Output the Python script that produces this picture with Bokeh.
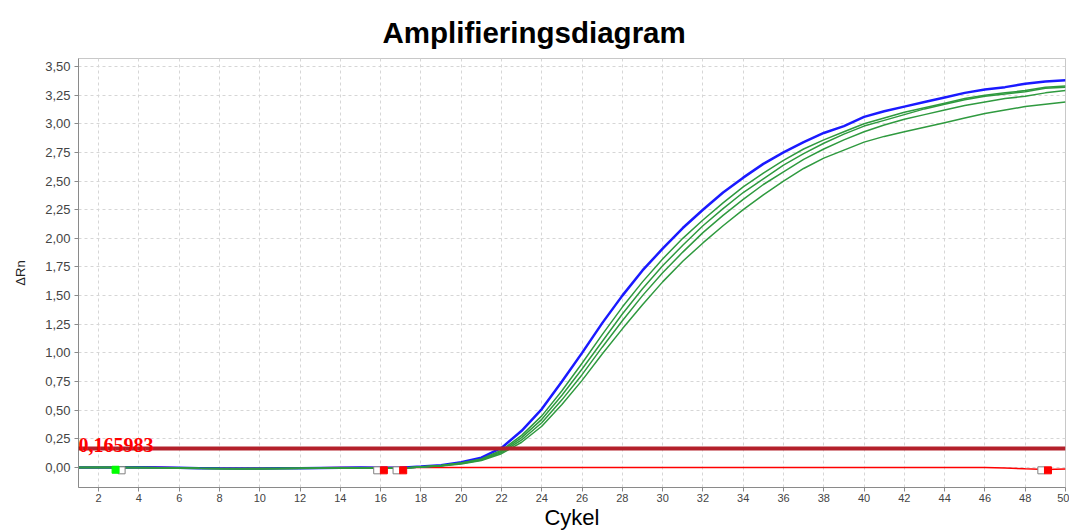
from bokeh.plotting import figure
from bokeh.models import Range1d, FixedTicker, Span, Label
from bokeh.embed import file_html
from bokeh.resources import INLINE

# ---------------- data ----------------
cycles = list(range(1, 51))

blue = [0.000, 0.000, 0.000, 0.001, 0.000, -0.003, -0.006, -0.008, -0.009, -0.009,
        -0.008, -0.007, -0.004, -0.002, 0.000, -0.003, -0.002,
        0.008, 0.020, 0.045, 0.085, 0.170, 0.320, 0.510, 0.750, 1.000, 1.260,
        1.500, 1.720, 1.910, 2.090, 2.250, 2.400, 2.530, 2.650, 2.750, 2.840,
        2.920, 2.980, 3.060, 3.110, 3.150, 3.190, 3.230, 3.270, 3.300, 3.320,
        3.350, 3.370, 3.380]

green_1 = [0.000, 0.000, -0.001, 0.000, -0.002, -0.004, -0.007, -0.009, -0.010, -0.010,
           -0.009, -0.007, -0.005, -0.003, -0.002, -0.005, -0.006,
           0.006, 0.018, 0.040, 0.075, 0.150, 0.280, 0.450, 0.670, 0.910, 1.160,
           1.400, 1.620, 1.820, 2.000, 2.160, 2.310, 2.450, 2.570, 2.680, 2.780,
           2.860, 2.930, 3.000, 3.050, 3.100, 3.140, 3.180, 3.220, 3.250, 3.270,
           3.290, 3.320, 3.330]

green_2 = [0.000, 0.001, 0.000, -0.001, -0.002, -0.005, -0.008, -0.010, -0.011, -0.010,
           -0.009, -0.008, -0.006, -0.004, -0.003, -0.006, -0.007,
           0.005, 0.017, 0.038, 0.070, 0.140, 0.260, 0.420, 0.630, 0.860, 1.100,
           1.340, 1.560, 1.760, 1.940, 2.110, 2.260, 2.400, 2.520, 2.640, 2.740,
           2.830, 2.910, 2.980, 3.030, 3.080, 3.130, 3.170, 3.210, 3.240, 3.260,
           3.280, 3.310, 3.320]

green_3 = [0.000, 0.000, 0.000, -0.001, -0.003, -0.005, -0.008, -0.010, -0.011, -0.011,
           -0.010, -0.008, -0.006, -0.004, -0.003, -0.006, -0.007,
           0.004, 0.015, 0.035, 0.065, 0.130, 0.240, 0.390, 0.590, 0.810, 1.050,
           1.280, 1.500, 1.700, 1.880, 2.050, 2.200, 2.340, 2.470, 2.580, 2.690,
           2.780, 2.860, 2.930, 2.990, 3.040, 3.080, 3.120, 3.160, 3.190, 3.220,
           3.240, 3.270, 3.290]

green_4 = [0.000, 0.000, -0.001, -0.002, -0.003, -0.006, -0.009, -0.011, -0.012, -0.011,
           -0.010, -0.009, -0.007, -0.005, -0.004, -0.007, -0.008,
           0.003, 0.013, 0.030, 0.060, 0.120, 0.220, 0.360, 0.550, 0.760, 0.990,
           1.210, 1.420, 1.620, 1.800, 1.960, 2.110, 2.250, 2.380, 2.500, 2.610,
           2.700, 2.770, 2.840, 2.890, 2.930, 2.970, 3.010, 3.050, 3.090, 3.120,
           3.150, 3.170, 3.190]

red = [0.000, 0.000, 0.002, 0.003, 0.002, -0.002, -0.005, -0.007, -0.008, -0.008,
       -0.007, -0.005, -0.003, -0.001,
       0.000, 0.000, 0.000, 0.000, 0.000, 0.000, 0.000, 0.000, 0.000, 0.000,
       0.000, 0.000, 0.000, 0.000, 0.000, 0.000, 0.000, 0.000, 0.000, 0.000,
       0.000, 0.000, 0.000, 0.000, 0.000, 0.000, 0.000, 0.000, 0.000, 0.000,
       0.000, 0.000, -0.004, -0.012, -0.018, -0.014]

threshold = 0.165983
threshold_text = "0,165983"

green_marker_x = [2.84]
green_marker_y = [-0.02]
red_marker_x = [16.16, 17.12, 49.13]
red_marker_y = [-0.025, -0.025, -0.025]
hollow_marker_x = [3.14, 15.83, 16.79, 48.80]
hollow_marker_y = [-0.025, -0.025, -0.025, -0.025]

x_ticks = list(range(2, 51, 2))
y_ticks = [0.0, 0.25, 0.5, 0.75, 1.0, 1.25, 1.5, 1.75, 2.0, 2.25, 2.5, 2.75, 3.0, 3.25, 3.5]
y_tick_labels = ["0,00", "0,25", "0,50", "0,75", "1,00", "1,25", "1,50", "1,75",
                 "2,00", "2,25", "2,50", "2,75", "3,00", "3,25", "3,50"]

title_text = "Amplifieringsdiagram"
x_label = "Cykel"
y_label = "ΔRn"

# ---------------- figure ----------------
p = figure(width=1069, height=532, output_backend="svg", toolbar_location=None,
           x_range=Range1d(1, 50), y_range=Range1d(-0.175, 3.57),
           min_border_left=78, min_border_right=4, min_border_top=58,
           min_border_bottom=45)

p.title.text = title_text
p.title.align = "left"
p.title.offset = 304
p.title.text_font = "Liberation Sans"
p.title.text_font_style = "bold"
p.title.text_font_size = "29.5px"
p.title.text_color = "#000000"
p.title.standoff = 20

p.background_fill_color = "white"
p.border_fill_color = "white"
p.outline_line_color = "#c8c8c8"

# grids
for g in (p.xgrid, p.ygrid):
    g.grid_line_color = "#d6d6d6"
    g.grid_line_dash = "3 3"
    g.grid_line_width = 1
p.xgrid.ticker = FixedTicker(ticks=x_ticks)
p.ygrid.ticker = FixedTicker(ticks=y_ticks)

# axes
p.xaxis.ticker = FixedTicker(ticks=x_ticks)
p.yaxis.ticker = FixedTicker(ticks=y_ticks)
p.yaxis.major_label_overrides = {t: l for t, l in zip(y_ticks, y_tick_labels)}
for ax in (p.xaxis[0], p.yaxis[0]):
    ax.axis_line_color = "#8a8a8a"
    ax.major_tick_line_color = "#8a8a8a"
    ax.major_tick_out = 4
    ax.major_tick_in = 0
    ax.minor_tick_line_color = None
    ax.major_label_text_color = "#444444"
    ax.major_label_text_font = "Liberation Sans"
p.xaxis.major_label_text_font_size = "11px"
p.xaxis.major_label_standoff = 2
p.yaxis.major_label_text_font_size = "13px"
p.yaxis.major_label_standoff = 4

p.xaxis.axis_label = x_label
p.xaxis.axis_label_text_font = "Liberation Sans"
p.xaxis.axis_label_text_font_style = "normal"
p.xaxis.axis_label_text_font_size = "22px"
p.xaxis.axis_label_text_color = "#000000"
p.xaxis.axis_label_standoff = 0

p.yaxis.axis_label = y_label
p.yaxis.axis_label_text_font = "Liberation Sans"
p.yaxis.axis_label_text_font_style = "normal"
p.yaxis.axis_label_text_font_size = "13px"
p.yaxis.axis_label_text_color = "#222222"
p.yaxis.axis_label_standoff = 14

# curves
p.line(cycles, red, line_color="#ff0000", line_width=1.5)
p.line(cycles, blue, line_color="#1a1aff", line_width=2.5)
for gv in (green_4, green_3, green_2, green_1):
    p.line(cycles, gv, line_color="#2f9a3f", line_width=1.5)

# threshold
p.add_layout(Span(location=threshold, dimension="width", line_color="#b3202a",
                  line_width=4))
p.add_layout(Label(x=1, y=threshold, text=threshold_text, text_color="#ff0000",
                   text_font="Liberation Serif", text_font_style="bold",
                   text_font_size="20px", text_baseline="alphabetic",
                   x_offset=0, y_offset=3))

# baseline markers
p.scatter(hollow_marker_x, hollow_marker_y, marker="square", size=7,
          fill_color="white", line_color="#808080", line_width=1)
p.scatter(green_marker_x, green_marker_y, marker="square", size=7,
          fill_color="#00ff00", line_color="#00ff00")
p.scatter(red_marker_x, red_marker_y, marker="square", size=7,
          fill_color="#ff0000", line_color="#ff0000")

open("out.html", "w").write(file_html(p, INLINE))
